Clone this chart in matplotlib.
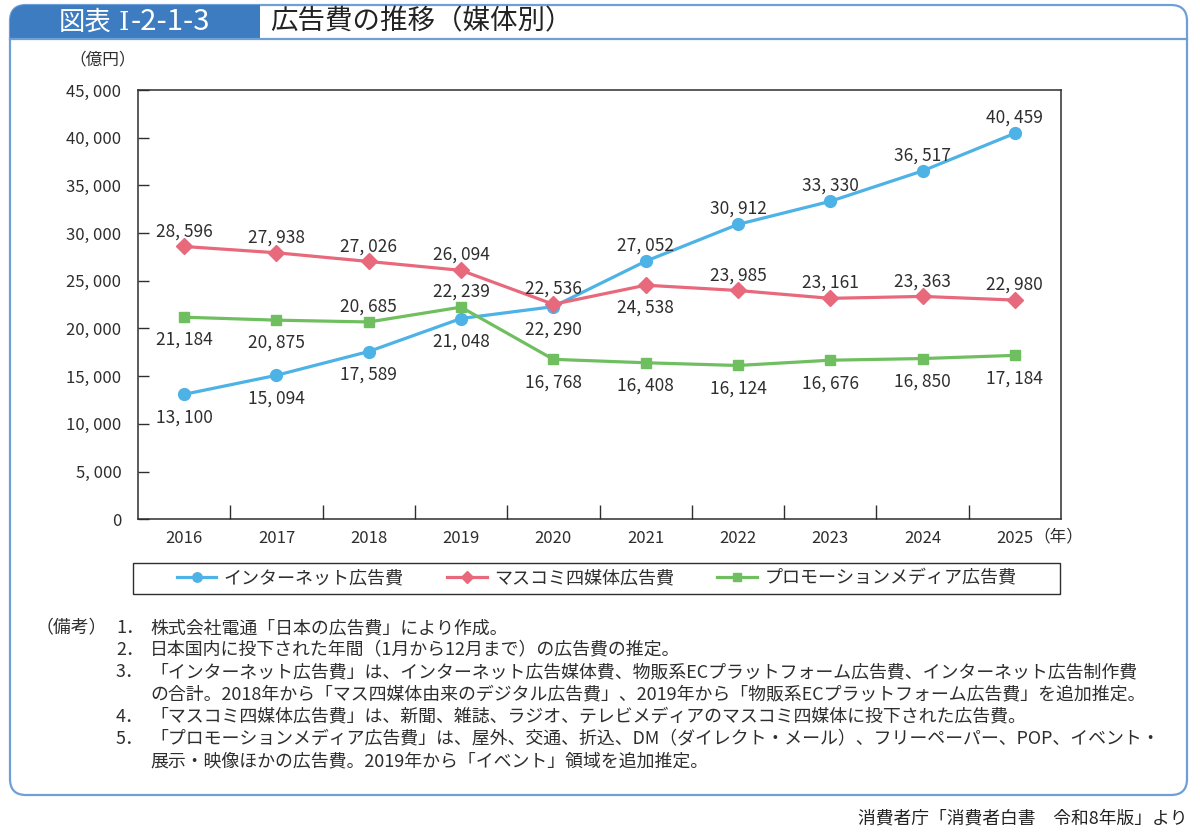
import numpy as np
import matplotlib
matplotlib.use("Agg")
from matplotlib import pyplot as plt
from matplotlib.patches import FancyBboxPatch, Rectangle

plt.rcParams['font.family'] = ['Noto Sans CJK JP', 'DejaVu Sans']

# data (億円)
years = ['2016', '2017', '2018', '2019', '2020', '2021', '2022', '2023', '2024', '2025']
internet = [13100, 15094, 17589, 21048, 22290, 27052, 30912, 33330, 36517, 40459]
masscomi = [28596, 27938, 27026, 26094, 22536, 24538, 23985, 23161, 23363, 22980]
promo = [21184, 20875, 20685, 22239, 16768, 16408, 16124, 16676, 16850, 17184]
series_names = ['インターネット広告費', 'マスコミ四媒体広告費', 'プロモーションメディア広告費']

# where the value label sits relative to the point
internet_lbl = ['below'] * 5 + ['above'] * 5
masscomi_lbl = ['above'] * 5 + ['below'] + ['above'] * 4
promo_lbl = ['below', 'below', 'above', 'above'] + ['below'] * 6

notes = [
    ('1．', '株式会社電通「日本の広告費」により作成。'),
    ('2．', '日本国内に投下された年間（1月から12月まで）の広告費の推定。'),
    ('3．', '「インターネット広告費」は、インターネット広告媒体費、物販系ECプラットフォーム広告費、インターネット広告制作費'),
    ('', 'の合計。2018年から「マス四媒体由来のデジタル広告費」、2019年から「物販系ECプラットフォーム広告費」を追加推定。'),
    ('4．', '「マスコミ四媒体広告費」は、新聞、雑誌、ラジオ、テレビメディアのマスコミ四媒体に投下された広告費。'),
    ('5．', '「プロモーションメディア広告費」は、屋外、交通、折込、DM（ダイレクト・メール）、フリーペーパー、POP、イベント・'),
    ('', '展示・映像ほかの広告費。2019年から「イベント」領域を追加推定。'),
]

BLUE = '#4db2e6'
PINK = '#e8687c'
GREEN = '#6fbf60'
FRAME = '#6e9fd6'
HEAD = '#3d7cc0'
TXT = '#2e2e2e'


def fmt(v):
    return f'{v:,}'.replace(',', ', ')


fig = plt.figure(figsize=(12, 8.32), dpi=100)

# background layer in pixel coords
bg = fig.add_axes([0, 0, 1, 1], zorder=0)
bg.set_xlim(0, 1200)
bg.set_ylim(832, 0)
bg.axis('off')

bg.add_patch(FancyBboxPatch((10, 5), 1177, 790, boxstyle='round,pad=0,rounding_size=16',
                            fc='white', ec=FRAME, lw=1.6))
bg.add_patch(FancyBboxPatch((10, 5), 250, 34, boxstyle='round,pad=0,rounding_size=16',
                            fc=HEAD, ec='none'))
bg.add_patch(Rectangle((10, 22), 250, 17, fc=HEAD, ec='none'))
bg.add_patch(Rectangle((140, 5), 120, 34, fc=HEAD, ec='none'))
bg.plot([10, 1187], [39, 39], color=FRAME, lw=1.6)
# header label: 図表 Ⅰ-2-1-3
bg.text(59, 22, '図表', color='white', fontsize=19, va='center', ha='left')
bg.text(119, 22, 'Ⅰ', color='white', fontsize=19, va='center', ha='left',
        family=['DejaVu Serif', 'Noto Sans CJK JP'])
bg.text(131, 22, '-2-1-3', color='white', fontsize=21, va='center', ha='left')
bg.text(270, 22, '広告費の推移（媒体別）', color='#222222', fontsize=19.8, va='center', ha='left')

bg.text(103, 60, '（億円）', color=TXT, fontsize=12, va='center', ha='center')
bg.text(1033, 537, '（年）', color=TXT, fontsize=12, va='center', ha='left')

# legend frame
bg.add_patch(Rectangle((133, 563), 927, 31, fill=False, ec=TXT, lw=1))

# notes
bg.text(36, 628, '（備考）', color=TXT, fontsize=12.9, va='center', ha='left')
for i, (num, line) in enumerate(notes):
    y = 628 + i * 22.2
    if num:
        bg.text(116, y, num, color=TXT, fontsize=12.9, va='center', ha='left')
    bg.text(150, y, line, color=TXT, fontsize=12.9, va='center', ha='left')

bg.text(1188, 818, '消費者庁「消費者白書　令和8年版」より', color='#222222', fontsize=12.8,
        va='center', ha='right')

# main chart
ax = fig.add_axes([138 / 1200, 1 - 519.3 / 832, (1061 - 138) / 1200, (519.3 - 90) / 832], zorder=2)
x = np.arange(len(years))

for vals, pos, col, mk, ms, name in [
    (internet, internet_lbl, BLUE, 'o', 8.5, series_names[0]),
    (masscomi, masscomi_lbl, PINK, 'D', 8, series_names[1]),
    (promo, promo_lbl, GREEN, 's', 7.5, series_names[2]),
]:
    ax.plot(x, vals, color=col, lw=2.3, marker=mk, ms=ms, label=name, zorder=3)
    for i, v in enumerate(vals):
        dy = 11 if pos[i] == 'above' else -16.5
        ax.annotate(fmt(v), (x[i], v), xytext=(0, dy), textcoords='offset points',
                    ha='center', va='center', fontsize=12.5, color=TXT)

ax.set_xlim(-0.5, len(years) - 0.5)
ax.set_ylim(0, 45000)
yt = np.arange(0, 45001, 5000)
ax.set_yticks(yt)
ax.set_yticklabels([fmt(v) for v in yt])
ax.set_xticks(x)
ax.set_xticklabels(years)
ax.set_xticks(x[:-1] + 0.5, minor=True)
ax.tick_params(axis='y', direction='in', length=8, width=1, labelsize=12, pad=12, colors=TXT)
ax.tick_params(axis='x', which='major', length=0, labelsize=12, pad=8, colors=TXT)
ax.tick_params(axis='x', which='minor', direction='in', length=10, width=1, color=TXT)
for s in ax.spines.values():
    s.set_color(TXT)
    s.set_linewidth(1.1)

handles, labels = ax.get_legend_handles_labels()
fig.legend(handles, labels, loc='center', bbox_to_anchor=(596.5 / 1200, 1 - 578.5 / 832),
           ncol=3, frameon=False, fontsize=13, handlelength=2.2, columnspacing=2.4,
           handletextpad=0.4, markerscale=0.8, labelcolor=TXT)

fig.savefig('out.png', dpi=100)
